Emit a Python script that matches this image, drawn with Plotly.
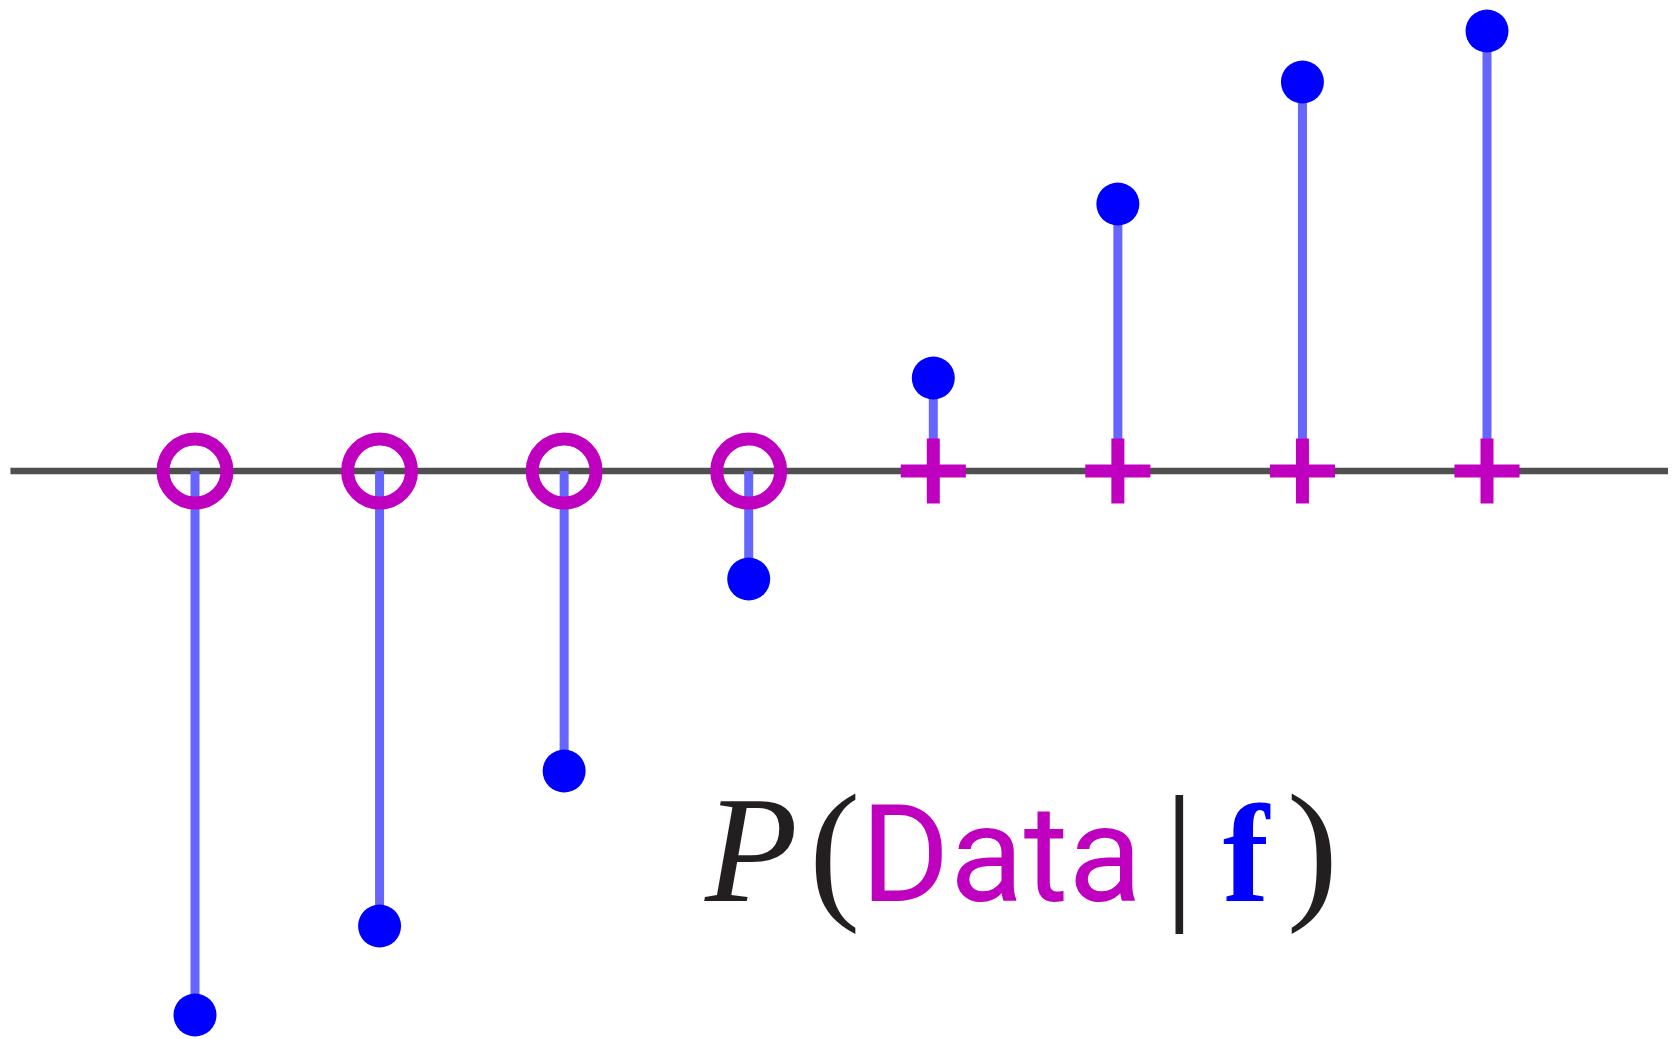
import plotly.graph_objects as go

# ---- data ----
positions = [1, 2, 3, 4, 5, 6, 7, 8]
f_values = [-5.44, -4.55, -3.00, -1.08, 0.93, 2.67, 3.89, 4.40]
labels = ["o", "o", "o", "o", "+", "+", "+", "+"]
axis_span = [0, 9]

STEM = "#6666ff"
DOT = "#0000ff"
MAG = "#bf00bf"
AXIS = "#4f4f4f"

fig = go.Figure()

# horizontal zero line
fig.add_trace(go.Scatter(x=axis_span, y=[0, 0], mode="lines",
                         line=dict(color=AXIS, width=6.5), hoverinfo="skip"))

# stems
sx, sy = [], []
for p, v in zip(positions, f_values):
    sx += [p, p, None]
    sy += [0, v, None]
fig.add_trace(go.Scatter(x=sx, y=sy, mode="lines",
                         line=dict(color=STEM, width=9), hoverinfo="skip"))

# class markers on the axis
neg_x = [p for p, l in zip(positions, labels) if l == "o"]
pos_x = [p for p, l in zip(positions, labels) if l == "+"]
fig.add_trace(go.Scatter(x=neg_x, y=[0] * len(neg_x), mode="markers",
                         marker=dict(symbol="circle-open", size=64, color=MAG,
                                     line=dict(color=MAG, width=13))))
fig.add_trace(go.Scatter(x=pos_x, y=[0] * len(pos_x), mode="markers",
                         marker=dict(symbol="cross-thin-open", size=46.5, color=MAG,
                                     line=dict(color=MAG, width=13))))

# function values
fig.add_trace(go.Scatter(x=positions, y=f_values, mode="markers",
                         marker=dict(symbol="circle", size=43, color=DOT,
                                     line=dict(width=0))))

SERIF = "font-family:'Liberation Serif'"
txt = (f"<span style=\"{SERIF};font-style:italic;font-size:152px;color:#231f20\">P</span>"
       f"<span style=\"{SERIF};font-size:45px\"> </span>"
       f"<span style=\"{SERIF};font-size:154px;color:#231f20\">(</span>"
       "<span style=\"font-family:'Roboto';font-size:136px;color:#bf00bf\">Data</span>"
       "<span style=\"font-family:'Roboto';font-size:88px\"> </span>"
       f"<span style=\"{SERIF};font-size:153px;color:#231f20\">|</span>"
       f"<span style=\"{SERIF};font-size:113px\"> </span>"
       f"<span style=\"{SERIF};font-weight:bold;font-size:139px;color:#0000ff\">f</span>"
       f"<span style=\"{SERIF};font-size:70px\"> </span>"
       f"<span style=\"{SERIF};font-size:154px;color:#231f20\">)</span>")

fig.add_annotation(text=txt, xref="paper", yref="paper", x=694 / 1668, y=1 - 928 / 1031,
                   xanchor="left", yanchor="bottom", showarrow=False,
                   font=dict(family="Liberation Serif", size=140, color="#231f20"))

fig.update_layout(
    width=1668, height=1031,
    margin=dict(l=0, r=0, t=0, b=0),
    paper_bgcolor="white", plot_bgcolor="white",
    showlegend=False,
    xaxis=dict(range=[-0.01316, 9.024], visible=False, fixedrange=True),
    yaxis=dict(range=[-5.68, 4.63], visible=False, fixedrange=True),
)

fig.write_html("out.html")
